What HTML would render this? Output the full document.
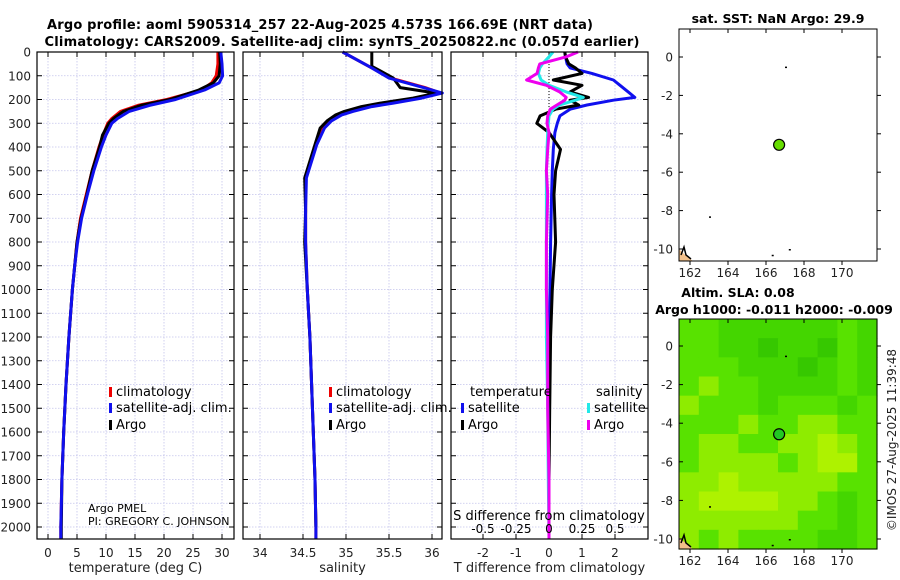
<!DOCTYPE html>
<html><head><meta charset="utf-8"><style>
html,body{margin:0;padding:0;background:#fff}
svg{display:block;font-family:"DejaVu Sans","Liberation Sans",sans-serif}
</style></head><body>
<svg id="chart" width="900" height="580" viewBox="0 0 900 580">
<text x="320" y="29" font-size="13" font-weight="bold" text-anchor="middle" textLength="546">Argo profile: aoml 5905314_257 22-Aug-2025 4.573S 166.69E (NRT data)</text>
<text x="342" y="46" font-size="13" font-weight="bold" text-anchor="middle" textLength="595">Climatology: CARS2009. Satellite-adj clim: synTS_20250822.nc (0.057d earlier)</text>
<g id="g"></g>
</svg>
<script>
// ---- data ----
const depthTicks=[0,100,200,300,400,500,600,700,800,900,1000,1100,1200,1300,1400,1500,1600,1700,1800,1900,2000];
const tempTicks=[0,5,10,15,20,25,30];
const salTicks=[34,34.5,35,35.5,36];
const salTickLabels=["34","34.5","35","35.5","36"];
const dTTicks=[-2,-1,0,1,2];
const dSTicks=[-0.5,-0.25,0,0.25,0.5];
const dSTickLabels=["-0.5","-0.25","0","0.25","0.5"];

const tDepth=[0,50,100,130,160,200,225,250,280,300,350,400,500,600,700,800,900,1000,1200,1400,1600,1800,2000,2050];
const tClim=[29.3,29.3,29.0,28.2,26.5,20.5,15.5,12.5,11.0,10.3,9.5,8.8,7.6,6.6,5.6,5.0,4.6,4.2,3.6,3.1,2.7,2.4,2.2,2.2];
const tSat=[29.8,30.0,30.1,29.5,27.0,22.0,17.5,14.0,12.0,11.0,10.0,9.2,7.9,6.8,5.8,5.1,4.6,4.2,3.6,3.1,2.7,2.4,2.2,2.2];
const tArgo=[29.6,29.7,29.5,28.5,26.0,21.0,16.0,13.0,11.3,10.5,9.4,8.9,7.6,6.7,5.7,5.0,4.6,4.2,3.6,3.1,2.7,2.4,2.3,2.3];

const sDepth=[0,67,110,150,173,194,215,230,250,265,290,320,390,530,670,800,1000,1200,1400,1600,1800,2000,2050];
const sClim=[34.96,35.3,35.52,35.92,36.1,35.83,35.45,35.22,35.02,34.9,34.8,34.72,34.65,34.53,34.53,34.53,34.55,34.58,34.6,34.62,34.64,34.65,34.65];
const sSat=[34.96,35.3,35.5,35.9,36.12,35.88,35.55,35.3,35.08,34.95,34.83,34.75,34.66,34.54,34.53,34.53,34.55,34.58,34.6,34.62,34.64,34.65,34.65];
const sArgoDepth=[0,30,60,80,110,150,173,194,215,230,250,265,290,320,390,530,670,800,1000,1200,1400,1600,1800,2000];
const sArgo=[35.3,35.3,35.3,35.4,35.55,35.63,36.05,35.78,35.4,35.18,34.98,34.88,34.78,34.7,34.64,34.52,34.53,34.52,34.55,34.58,34.6,34.62,34.64,34.65];

const dDepth=[0,20,50,67,90,118,140,168,191,203,223,241,269,300,339,410,500,600,800,1000,1200,1500,1800,2050];
const dTSat=[0.48,0.5,0.55,0.64,1.3,1.95,2.15,2.4,2.6,1.95,1.15,0.64,0.33,0.25,0.18,0.13,0.1,0.08,0.05,0.03,0.01,0,0,0];
const dTArgo=[0.48,0.5,0.6,0.8,1.0,0.13,1.0,0.64,1.2,0.64,0.9,0.2,-0.27,-0.37,0.0,0.35,0.2,0.15,0.2,0.1,0.05,0.02,0.0,0.0];
const dSSat=[0.03,0.0,-0.05,-0.07,-0.08,-0.06,0.0,0.13,0.26,0.2,0.08,0.03,0.0,-0.005,-0.01,-0.015,-0.02,-0.02,-0.02,-0.02,-0.02,-0.01,-0.005,0.0];
const dSArgo=[0.22,0.13,-0.07,-0.08,-0.09,-0.17,-0.02,0.08,0.13,0.12,0.06,0.01,-0.01,-0.015,0.0,-0.01,-0.02,-0.01,-0.02,-0.02,-0.01,-0.01,0.0,0.0];

const lonTicks=[162,164,166,168,170];
const latTicks=[0,-2,-4,-6,-8,-10];
const argoLon=166.69, argoLat=-4.573;
const slaGrid=[
[2,2,1,1,1,1,1,1,2,1],
[2,2,1,1,0,1,1,0,2,1],
[2,2,2,1,1,1,0,1,2,1],
[2,3,2,2,1,1,1,1,2,1],
[3,2,2,2,1,2,2,2,1,2],
[2,2,2,3,2,2,3,3,2,2],
[2,3,3,2,2,3,3,4,3,2],
[2,3,3,3,3,2,3,4,4,2],
[3,3,4,3,3,3,3,3,2,2],
[3,4,4,4,4,3,3,2,1,2],
[3,3,3,3,3,3,2,2,1,2],
[3,2,3,2,2,2,2,1,1,2]];

// ---- helpers ----
const NS="http://www.w3.org/2000/svg";
const G=document.getElementById('g');
function el(tag,attrs,parent,txt){const e=document.createElementNS(NS,tag);for(const k in attrs)e.setAttribute(k,attrs[k]);if(txt!==undefined)e.textContent=txt;(parent||G).appendChild(e);return e;}
const yD=d=>52+d*0.2375;
const TOP=52,BOT=539;

function panel(name,x0,x1,xf,xticks,xlabels,xtitle,showDepth){
  const g=el('g',{},G);
  
  
  xticks.forEach(v=>{const x=xf(v);el('line',{x1:x,x2:x,y1:TOP,y2:BOT,stroke:'#c4c4ec','stroke-width':0.8,'stroke-dasharray':'1.5,1.5'},g);
    el('line',{x1:x,x2:x,y1:BOT,y2:BOT-5,stroke:'#000'},g);el('line',{x1:x,x2:x,y1:TOP,y2:TOP+5,stroke:'#000'},g);});
  depthTicks.forEach(d=>{const y=yD(d);el('line',{x1:x0,x2:x1,y1:y,y2:y,stroke:'#c4c4ec','stroke-width':0.8,'stroke-dasharray':'1.5,1.5'},g);
    el('line',{x1:x0,x2:x0+5,y1:y,y2:y,stroke:'#000'},g);el('line',{x1:x1,x2:x1-5,y1:y,y2:y,stroke:'#000'},g);});
  xticks.forEach((v,i)=>{const t=el('text',{x:xf(v),y:557,'font-size':12,'text-anchor':'middle',fill:'#222'},g,xlabels[i]);
    
    });
  const tt=el('text',{x:(x0+x1)/2,y:572,'font-size':13,'text-anchor':'middle',fill:'#222'},g,xtitle);
  
  
  if(showDepth){depthTicks.forEach(d=>{const t=el('text',{x:31,y:yD(d)+4.5,'font-size':12,'text-anchor':'end',fill:'#222'},g,String(d));
    
    });}
  return g;
}
function line(g,name,vals,depths,xf,color,w){
  const pts=vals.map((v,i)=>xf(v).toFixed(1)+','+yD(depths[i]).toFixed(1)).join(' ');
  const p=el('polyline',{points:pts,fill:'none',stroke:color,'stroke-width':w,'stroke-linejoin':'round'},g);
  
  
}
function frame(g,x0,x1){el('rect',{x:x0,y:TOP,width:x1-x0,height:BOT-TOP,fill:'none',stroke:'#000','stroke-width':1.2},g);}
function legendItem(g,name,x,y,color,label){
  const r=el('rect',{x:x,y:y-9,width:3,height:10,fill:color},g);
  
  
  const t=el('text',{x:x+7,y:y,'font-size':13,fill:'#000'},g,label);
  
  
}

// Panel 1 temperature
const xT=v=>48+v*5.8;
const p1=panel('temperature',37,234,xT,tempTicks,tempTicks.map(String),'temperature (deg C)',true);
line(p1,'temp-clim-line',tClim,tDepth,xT,'#ee0000',3);
line(p1,'temp-argo-line',tArgo,tDepth,xT,'#000',3);
line(p1,'temp-sat-line',tSat,tDepth,xT,'#1010ee',3);
frame(p1,37,234);
legendItem(p1,'legend-climatology',109,396,'#ee0000','climatology');
legendItem(p1,'legend-satellite',109,412,'#1010ee','satellite-adj. clim.');
legendItem(p1,'legend-argo',109,429,'#000','Argo');
let t=el('text',{x:88,y:512,'font-size':11},p1,'Argo PMEL');


t=el('text',{x:88,y:525,'font-size':11},p1,'PI: GREGORY C. JOHNSON');



// Panel 2 salinity
const xS=v=>260+(v-34)*86;
const p2=panel('salinity',243,442,xS,salTicks,salTickLabels,'salinity',false);
line(p2,'sal-clim-line',sClim,sDepth,xS,'#ee0000',3);
line(p2,'sal-argo-line',sArgo,sArgoDepth,xS,'#000',3);
line(p2,'sal-sat-line',sSat,sDepth,xS,'#1010ee',3);
frame(p2,243,442);
legendItem(p2,'legend-sal-climatology',329,396,'#ee0000','climatology');
legendItem(p2,'legend-sal-satellite',329,412,'#1010ee','satellite-adj. clim.');
legendItem(p2,'legend-sal-argo',329,429,'#000','Argo');

// Panel 3 differences
const xDT=v=>549+v*33;
const xDS=v=>549+v*132;
const p3=panel('difference',451,648,xDT,dTTicks,dTTicks.map(String),'T difference from climatology',false);
el('line',{x1:549,x2:549,y1:TOP,y2:130,stroke:'#000','stroke-width':1,'stroke-dasharray':'1,2'},p3);
line(p3,'dT-sat-line',dTSat,dDepth,xDT,'#1010ee',3);
line(p3,'dT-argo-line',dTArgo,dDepth,xDT,'#000',3);
line(p3,'dS-sat-line',dSSat,dDepth,xDS,'#22e8e8',3);
line(p3,'dS-argo-line',dSArgo,dDepth,xDS,'#ee00ee',3);
frame(p3,451,648);
t=el('text',{x:549,y:520,'font-size':13,'text-anchor':'middle'},p3,'S difference from climatology');


dSTicks.forEach((v,i)=>{const s=el('text',{x:xDS(v),y:533,'font-size':12,'text-anchor':'middle'},p3,dSTickLabels[i]);
  
  });
t=el('text',{x:470,y:396,'font-size':13},p3,'temperature');


t=el('text',{x:596,y:396,'font-size':13},p3,'salinity');


legendItem(p3,'legend-dT-satellite',461,412,'#1010ee','satellite');
legendItem(p3,'legend-dT-argo',461,429,'#000','Argo');
legendItem(p3,'legend-dS-satellite',587,412,'#22e8e8','satellite');
legendItem(p3,'legend-dS-argo',587,429,'#ee00ee','Argo');

// Maps
const MX0=679,MX1=877;
const xLon=v=>690+(v-162)*19;
function map(name,y0,y1,yLat,dotColor,withGrid){
  const g=el('g',{},G);
  
  
  if(withGrid){
    const rows=slaGrid.length,cols=slaGrid[0].length;
    const cw=(MX1-MX0)/cols,ch=(y1-y0)/rows;
    const pal=['#36c800','#44d600','#58e200','#8eec00','#aef200'];
    slaGrid.forEach((row,r)=>row.forEach((v,c)=>{
      const rc=el('rect',{x:MX0+c*cw,y:y0+r*ch,width:cw+0.6,height:ch+0.6,fill:pal[v]},g);
      
      
    }));
  }
  el('path',{d:`M${MX0} ${y1} L${MX0} ${y1-12} L${MX0+4} ${y1-8} L${MX0+10} ${y1-3} L${MX0+14} ${y1} Z`,fill:'#f2c08a'},g);
  el('path',{d:`M${MX0+2} ${y1-6} L${MX0+5} ${y1-14} L${MX0+7} ${y1-6} L${MX0+12} ${y1-2}`,fill:'none',stroke:'#000','stroke-width':1.5},g);
  [[167,-0.5],[163,-8.3],[167.2,-10],[166.3,-10.3]].forEach(p=>el('rect',{x:xLon(p[0]),y:yLat(p[1]),width:2,height:1.5,fill:'#000'},g));
  latTicks.forEach(v=>{const y=yLat(v);
    el('line',{x1:MX0,x2:MX0+4,y1:y,y2:y,stroke:'#000'},g);el('line',{x1:MX1,x2:MX1+4,y1:y,y2:y,stroke:'#000'},g);
    const s=el('text',{x:673,y:y+4.5,'font-size':12,'text-anchor':'end',fill:'#222'},g,String(v));
    
    });
  lonTicks.forEach(v=>{const x=xLon(v);
    el('line',{x1:x,x2:x,y1:y1,y2:y1+4,stroke:'#000'},g);el('line',{x1:x,x2:x,y1:y0,y2:y0+4,stroke:'#000'},g);
    const s=el('text',{x:x,y:y1+16,'font-size':12,'text-anchor':'middle',fill:'#222'},g,String(v));
    
    });
  el('rect',{x:MX0,y:y0,width:MX1-MX0,height:y1-y0,fill:'none',stroke:'#000','stroke-width':1},g);
  const c=el('circle',{cx:xLon(argoLon),cy:yLat(argoLat),r:5.5,fill:dotColor,stroke:'#000','stroke-width':1.2},g);
  
  
}
map('sst-map',29,261,v=>57-v*19.2,'#66dd00',false);
map('sla-map',319,549,v=>346-v*19.3,'#22c822',true);
t=el('text',{x:778,y:23,'font-size':12.5,'font-weight':'bold','text-anchor':'middle'},G,'sat. SST: NaN Argo: 29.9');


t=el('text',{x:738,y:297,'font-size':12.5,'font-weight':'bold','text-anchor':'middle'},G,'Altim. SLA: 0.08');


t=el('text',{x:774,y:314,'font-size':12.5,'font-weight':'bold','text-anchor':'middle'},G,'Argo h1000: -0.011 h2000: -0.009');


t=el('text',{x:0,y:0,'font-size':12,'text-anchor':'middle',fill:'#222',transform:'translate(896,440) rotate(-90)'},G,'©IMOS 27-Aug-2025 11:39:48');


</script>
</body></html>
